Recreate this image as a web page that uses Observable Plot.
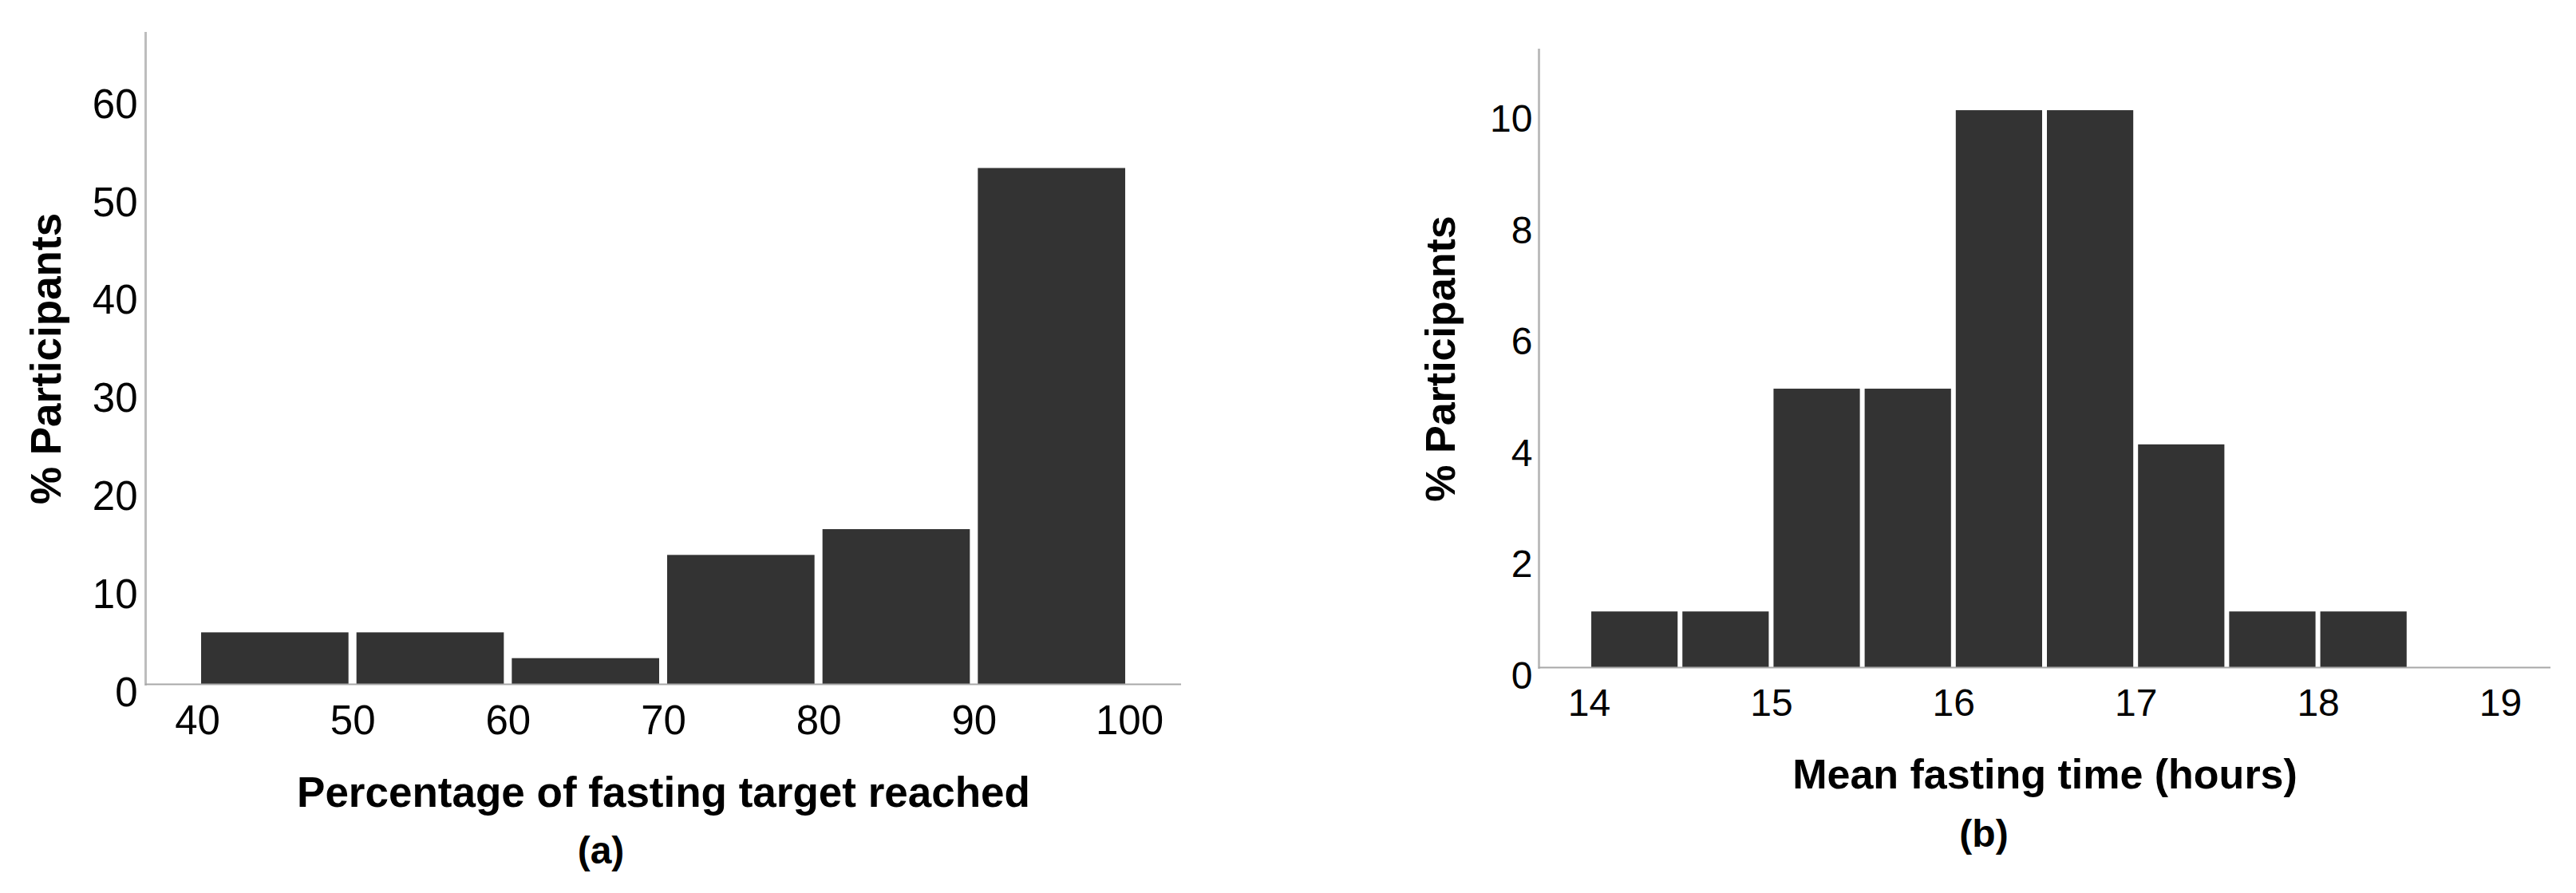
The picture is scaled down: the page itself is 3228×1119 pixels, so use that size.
<!DOCTYPE html>
<html><head><meta charset="utf-8">
<script src="https://cdn.jsdelivr.net/npm/d3@7"></script>
<script src="https://cdn.jsdelivr.net/npm/@observablehq/plot@0.6"></script>
<style>
body{margin:0;background:#fff;}
#wrap{position:relative;width:3228px;height:1119px;font-family:"Liberation Sans",Arial,sans-serif;color:#000;}
.panel{position:absolute;top:0;}
.cap{position:absolute;font-weight:bold;font-size:48px;line-height:1;transform:translateX(-50%);white-space:nowrap;}
</style></head><body>
<div id="wrap"></div>
<script>
// Panel (a): Percentage of fasting target reached
const aBinStart = [40, 50, 60, 70, 80, 90];
const aBinEnd   = [50, 60, 70, 80, 90, 100];
const aPercent  = [5.26, 5.26, 2.63, 13.16, 15.79, 52.63];
const aXTicks   = [40, 50, 60, 70, 80, 90, 100];
const aYTicks   = [0, 10, 20, 30, 40, 50, 60];
const aXTitle   = "Percentage of fasting target reached";
const aCaption  = "(a)";

// Panel (b): Mean fasting time (hours)
const bBinStart = [14, 14.5, 15, 15.5, 16, 16.5, 17, 17.5, 18];
const bBinEnd   = [14.5, 15, 15.5, 16, 16.5, 17, 17.5, 18, 18.5];
const bPercent  = [1, 1, 5, 5, 10, 10, 4, 1, 1];
const bXTicks   = [14, 15, 16, 17, 18, 19];
const bYTicks   = [0, 2, 4, 6, 8, 10];
const bXTitle   = "Mean fasting time (hours)";
const bCaption  = "(b)";

const yTitle = "% Participants";
const FONT = "'Liberation Sans', Arial, sans-serif";
const fmt = d3.format("~g");

function panel(o) {
  const data = o.start.map((s, i) => ({x1: s, x2: o.end[i], y: o.vals[i]}));
  return Plot.plot({
    width: 1614, height: 1119,
    marginLeft: o.ml, marginRight: o.mr, marginTop: o.mt, marginBottom: o.mb,
    style: {fontFamily: FONT, background: "transparent", color: "#000", overflow: "visible"},
    x: {domain: o.xDomain},
    y: {domain: o.yDomain},
    marks: [
      Plot.rectY(data, {x1: "x1", x2: "x2", y: "y", fill: "#333333", insetLeft: o.inset, insetRight: o.inset}),
      Plot.frame({anchor: "left", stroke: "#bdbdbd", strokeWidth: 3}),
      Plot.ruleY([0], {stroke: "#a8a8a8", strokeWidth: 2}),
      Plot.axisX({ticks: o.xTicks, tickFormat: fmt, tickSize: 0, tickPadding: 26, fontSize: o.tickFont, label: null}),
      Plot.axisY({ticks: o.yTicks, tickFormat: fmt, tickSize: 0, tickPadding: o.yPad, dy: 11, fontSize: o.tickFont, label: null}),
      Plot.axisX({ticks: [], tickSize: 0, label: o.xTitle, labelAnchor: "center", labelArrow: "none",
                  labelOffset: o.xLabelOffset, fontSize: o.titleFont, fontWeight: "bold"}),
      Plot.axisY({ticks: [], tickSize: 0, label: yTitle, labelAnchor: "center", labelArrow: "none",
                  labelOffset: o.yLabelOffset, fontSize: o.titleFont, fontWeight: "bold"})
    ]
  });
}

const wrap = document.getElementById("wrap");

const pa = panel({
  start: aBinStart, end: aBinEnd, vals: aPercent, xTicks: aXTicks, yTicks: aYTicks,
  xDomain: [36.66, 103.34], yDomain: [0, 66.43],
  ml: 182, mr: 134, mt: 41, mb: 262, inset: 5, tickFont: 51, titleFont: 53, yPad: 10,
  xTitle: aXTitle, xLabelOffset: 153, yLabelOffset: 144
});
pa.classList.add("panel"); pa.style.left = "0px";
wrap.appendChild(pa);

const pb = panel({
  start: bBinStart, end: bBinEnd, vals: bPercent, xTicks: bXTicks, yTicks: bYTicks,
  xDomain: [13.724, 19.276], yDomain: [0, 11.09],
  ml: 314, mr: 32, mt: 62, mb: 283, inset: 3, tickFont: 48, titleFont: 52, yPad: 8,
  xTitle: bXTitle, xLabelOffset: 151, yLabelOffset: 142
});
pb.classList.add("panel"); pb.style.left = "1614px";
wrap.appendChild(pb);

function caption(text, cx, top) {
  const d = document.createElement("div");
  d.className = "cap";
  d.textContent = text;
  d.style.left = cx + "px";
  d.style.top = top + "px";
  wrap.appendChild(d);
}
caption(aCaption, 753, 1042);
caption(bCaption, 2486, 1021);
</script>
</body></html>
